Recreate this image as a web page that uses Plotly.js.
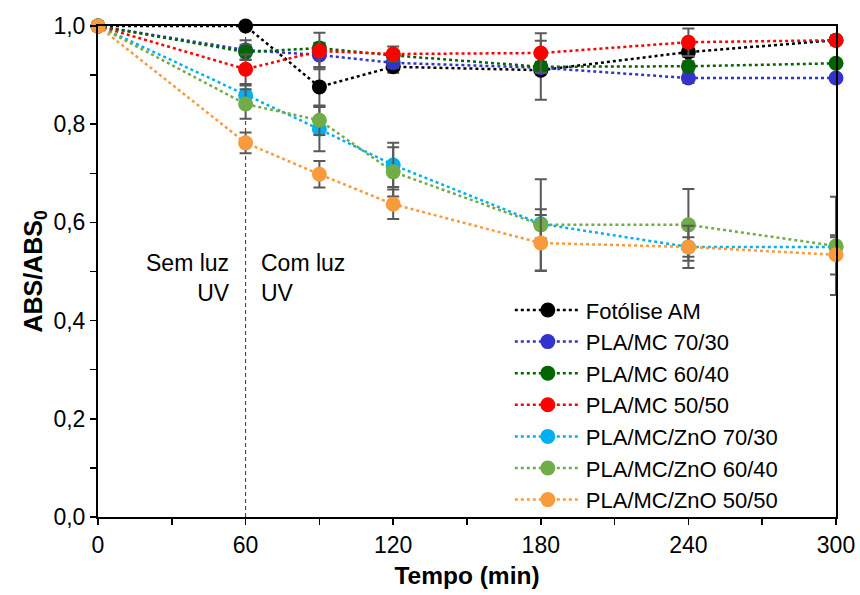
<!DOCTYPE html>
<html>
<head>
<meta charset="utf-8">
<script src="https://cdn.plot.ly/plotly-3.0.1.min.js"></script>
<style>
html,body{margin:0;padding:0;background:#fff;}
#chart{width:860px;height:595px;}
</style>
</head>
<body>
<div id="chart"></div>
<script>
const tempo = [0, 60, 90, 120, 180, 240, 300];

const seriesNames = ["Fotólise AM", "PLA/MC 70/30", "PLA/MC 60/40", "PLA/MC 50/50",
  "PLA/MC/ZnO 70/30", "PLA/MC/ZnO 60/40", "PLA/MC/ZnO 50/50"];
const seriesColors = ["#000000", "#3333CC", "#006600", "#FF0000", "#00B0F0", "#70AD47", "#F99A3C"];

const fotolise   = [1.000, 1.000, 0.876, 0.917, 0.910, 0.947, 0.971];
const mc7030     = [1.000, 0.951, 0.941, 0.925, 0.915, 0.894, 0.894];
const mc6040     = [1.000, 0.947, 0.955, 0.940, 0.917, 0.918, 0.924];
const mc5050     = [1.000, 0.912, 0.949, 0.943, 0.945, 0.967, 0.971];
const zno7030    = [1.000, 0.859, 0.790, 0.717, 0.597, 0.550, 0.550];
const zno6040    = [1.000, 0.841, 0.808, 0.703, 0.595, 0.595, 0.552];
const zno5050    = [1.000, 0.762, 0.698, 0.637, 0.558, 0.550, 0.534];

const errFotolise = [0, 0, 0.040, 0.012, 0.060, 0.010, 0.005];
const errMc7030   = [0, 0.020, 0.025, 0.010, 0.010, 0.010, 0.005];
const errMc6040   = [0, 0.015, 0.010, 0.010, 0.010, 0.010, 0.005];
const errMc5050   = [0, 0.030, 0.037, 0.015, 0.040, 0.028, 0.010];
const errZno7030  = [0, 0.020, 0.045, 0.045, 0.030, 0.020, 0.020];
const errZno6040  = [0, 0.030, 0.030, 0.050, 0.093, 0.073, 0.100];
const errZno5050  = [0, 0.021, 0.027, 0.030, 0.057, 0.043, 0.040];

const values = [fotolise, mc7030, mc6040, mc5050, zno7030, zno6040, zno5050];
const errors = [errFotolise, errMc7030, errMc6040, errMc5050, errZno7030, errZno6040, errZno5050];

const yTickVals = [0, 0.2, 0.4, 0.6, 0.8, 1.0];
const yTickText = ["0,0", "0,2", "0,4", "0,6", "0,8", "1,0"];
const xTickVals = [0, 60, 120, 180, 240, 300];

const FONT = "Liberation Sans, Arial, sans-serif";
const FS = 23;

const traces = values.map((v, i) => ({
  x: tempo,
  y: v,
  name: seriesNames[i],
  type: "scatter",
  mode: "lines+markers",
  cliponaxis: false,
  line: {color: seriesColors[i], width: 2.5, dash: "dot"},
  marker: {color: seriesColors[i], size: 15},
  error_y: {type: "data", array: errors[i], visible: true, color: "#595959", thickness: 2, width: 6}
}));

const layout = {
  width: 860, height: 595,
  margin: {l: 98, r: 24, t: 26, b: 78},
  paper_bgcolor: "#ffffff", plot_bgcolor: "#ffffff",
  font: {family: FONT, size: FS, color: "#000"},
  showlegend: true,
  legend: {x: 0.558, y: 0.464, xanchor: "left", yanchor: "top", bgcolor: "rgba(0,0,0,0)",
           font: {family: FONT, size: 22, color: "#000"}, tracegroupgap: 0, itemwidth: 66},
  xaxis: {
    range: [0, 300], tickvals: xTickVals, ticktext: xTickVals.map(String),
    showgrid: false, zeroline: false, showline: true, linecolor: "#000", linewidth: 2,
    mirror: true, ticks: "outside", ticklen: 6, tickwidth: 1.5, tickcolor: "#000",
    minor: {dtick: 30, tick0: 0, ticks: "outside", ticklen: 6, tickwidth: 1.5, tickcolor: "#000", showgrid: false},
    title: {text: "<b>Tempo (min)</b>", font: {family: FONT, size: 24.5}, standoff: 10}
  },
  yaxis: {
    range: [0, 1], tickvals: yTickVals, ticktext: yTickText,
    showgrid: false, zeroline: false, showline: true, linecolor: "#000", linewidth: 2,
    mirror: true, ticks: "outside", ticklen: 6, tickwidth: 1.5, tickcolor: "#000",
    minor: {dtick: 0.1, tick0: 0, ticks: "outside", ticklen: 6, tickwidth: 1.5, tickcolor: "#000", showgrid: false},
    title: {text: "<b>ABS/ABS<sub>0</sub></b>", font: {family: FONT, size: 25}, standoff: 4}
  },
  shapes: [{type: "line", xref: "x", yref: "y", x0: 60, x1: 60, y0: 0, y1: 1,
            line: {color: "#333", width: 1, dash: "4px,3px"}, layer: "below"}],
  annotations: [
    {xref: "x", yref: "y", x: 54.5, y: 0.487, text: "Sem luz<br>UV", showarrow: false,
     xanchor: "right", yanchor: "middle", align: "right", font: {family: FONT, size: FS, color: "#000"}},
    {xref: "x", yref: "y", x: 65.5, y: 0.487, text: "Com luz<br>UV", showarrow: false,
     xanchor: "left", yanchor: "middle", align: "left", font: {family: FONT, size: FS, color: "#000"}}
  ]
};

Plotly.newPlot("chart", traces, layout, {displayModeBar: false, staticPlot: true});
</script>
</body>
</html>
